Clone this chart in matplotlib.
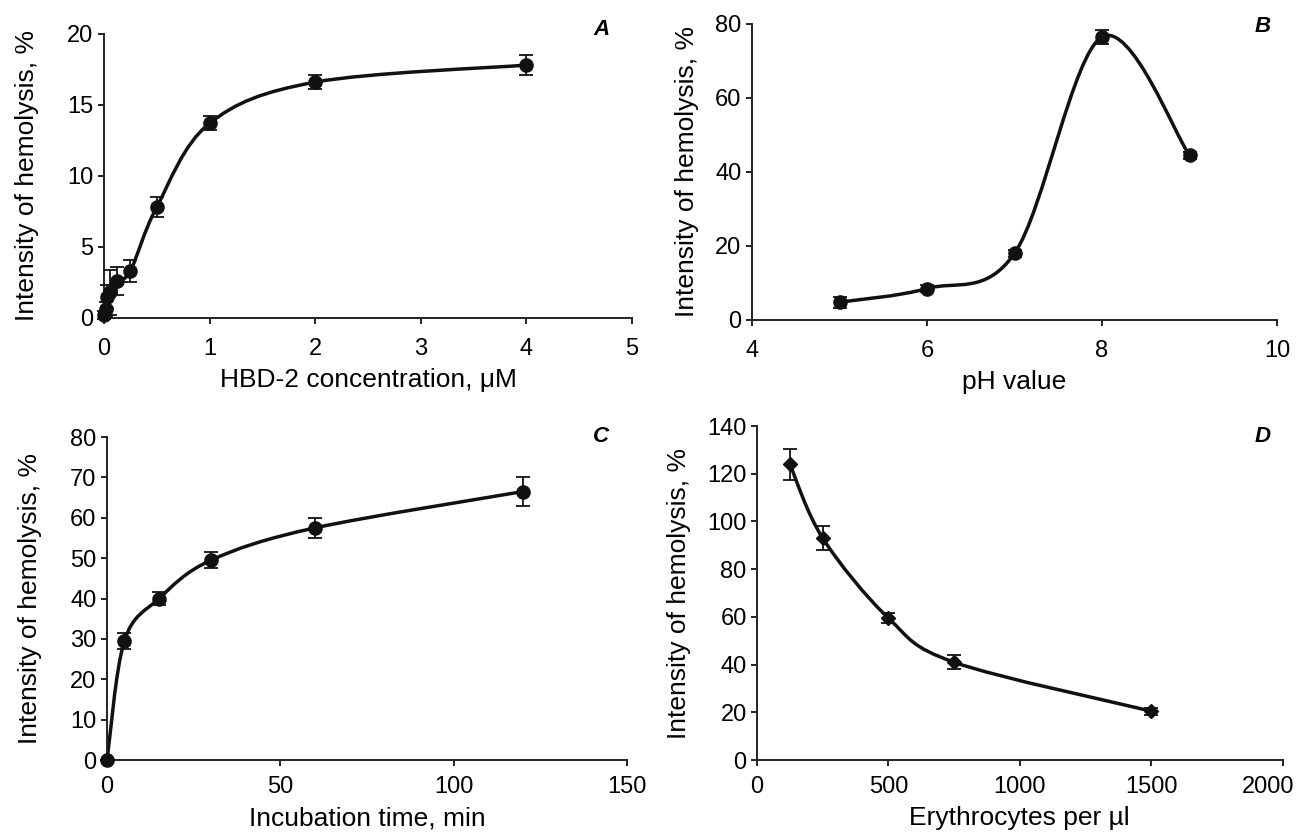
import numpy as np
import matplotlib
matplotlib.use("Agg")
import matplotlib.pyplot as plt
import matplotlib.transforms as mtransforms
from matplotlib.path import Path
from matplotlib.patches import PathPatch

plt.rcParams['font.family'] = ['Liberation Sans', 'DejaVu Sans']

# A: HBD-2 concentration
conc = [0, 0.015, 0.03, 0.06, 0.125, 0.25, 0.5, 1, 2, 4]
hemo_conc = [0.2, 0.6, 1.5, 1.8, 2.6, 3.3, 7.8, 13.7, 16.6, 17.8]
err_conc = [0.3, 0.5, 0.8, 1.6, 1.0, 0.8, 0.7, 0.5, 0.5, 0.7]

# B: pH
ph = [5, 6, 7, 8, 9]
hemo_ph = [4.8, 8.5, 18.0, 76.5, 44.5]
err_ph = [1.5, 1.0, 1.0, 2.0, 1.0]

# C: incubation time
time_min = [0, 5, 15, 30, 60, 120]
hemo_time = [0, 29.5, 40.0, 49.5, 57.5, 66.5]
err_time = [0, 2.0, 1.5, 2.0, 2.5, 3.5]

# D: erythrocytes
eryth = [125, 250, 500, 750, 1500]
hemo_eryth = [124, 93, 59.5, 41, 20.5]
err_eryth = [6.5, 5.0, 2.0, 3.0, 1.5]


def smooth_path(x, y):
    # Catmull-Rom style bezier through the points (like a spreadsheet "smoothed line")
    p = np.column_stack([x, y]).astype(float)
    n = len(p)
    verts = [p[0]]
    codes = [Path.MOVETO]
    for i in range(n - 1):
        p0 = p[i - 1] if i > 0 else p[i]
        p3 = p[i + 2] if i + 2 < n else p[i + 1]
        c1 = p[i] + (p[i + 1] - p0) / 6
        c2 = p[i + 1] - (p3 - p[i]) / 6
        verts += [c1, c2, p[i + 1]]
        codes += [Path.CURVE4] * 3
    return Path(verts, codes)


def panel(rect, x, y, err, xlim, xticks, ylim, yticks, xlabel, letter, letter_pos,
          marker='o', ms=9.5, xpad=5, xlpad=4, ylpad=12):
    ax = fig.add_axes(rect)
    ax.add_patch(PathPatch(smooth_path(x, y), facecolor='none', edgecolor='#111111', lw=2.5, zorder=2))
    ax.errorbar(x, y, yerr=err, fmt=marker, color='#111111', ms=ms, capsize=5,
                elinewidth=1.3, capthick=1.3, zorder=3, clip_on=False)
    ax.set_xlim(*xlim)
    ax.set_ylim(*ylim)
    ax.set_xticks(xticks)
    ax.set_yticks(yticks)
    for s in ['top', 'right']:
        ax.spines[s].set_visible(False)
    for s in ['left', 'bottom']:
        ax.spines[s].set_linewidth(1.4)
        ax.spines[s].set_color('#222222')
    ax.tick_params(direction='out', length=4.5, width=1.4, color='#222222', labelsize=17)
    ax.tick_params(axis='x', pad=xpad)
    ax.tick_params(axis='y', pad=3)
    ax.set_xlabel(xlabel, fontsize=19, labelpad=xlpad)
    ax.set_ylabel('Intensity of hemolysis, %', fontsize=19, labelpad=ylpad)
    fig.text(letter_pos[0], letter_pos[1], letter, fontsize=16, fontweight='bold',
             fontstyle='italic', ha='center', va='center')
    return ax


fig = plt.figure(figsize=(12.99, 8.32), dpi=100)

panel([0.080, 0.618, 0.4065, 0.3413], conc, hemo_conc, err_conc, (0, 5), range(0, 6),
      (0, 20), range(0, 21, 5), 'HBD-2 concentration, μM', 'A', (0.463, 0.965),
      xpad=10, xlpad=6, ylpad=20)
panel([0.5789, 0.6154, 0.4042, 0.3558], ph, hemo_ph, err_ph, (4, 10), range(4, 11, 2),
      (0, 80), range(0, 81, 20), 'pH value', 'B', (0.972, 0.968),
      xpad=10, xlpad=6, ylpad=12)
panel([0.0824, 0.0865, 0.4003, 0.3882], time_min, hemo_time, err_time, (0, 150), range(0, 151, 50),
      (0, 80), range(0, 81, 10), 'Incubation time, min', 'C', (0.463, 0.475),
      xpad=7, xlpad=6, ylpad=20)
axd = panel([0.5828, 0.0865, 0.4045, 0.4014], eryth, hemo_eryth, err_eryth, (0, 2000), range(0, 2001, 500),
            (0, 140), range(0, 141, 20), 'Erythrocytes per µl', 'D', (0.972, 0.475),
            marker='D', ms=7.5, xpad=7, xlpad=6, ylpad=12)

# keep the last tick label inside the figure
fig.canvas.draw()
last = axd.get_xticklabels()[-1]
last.set_transform(last.get_transform() + mtransforms.ScaledTranslation(-0.14, 0, fig.dpi_scale_trans))

fig.savefig('out.png', dpi=100)
